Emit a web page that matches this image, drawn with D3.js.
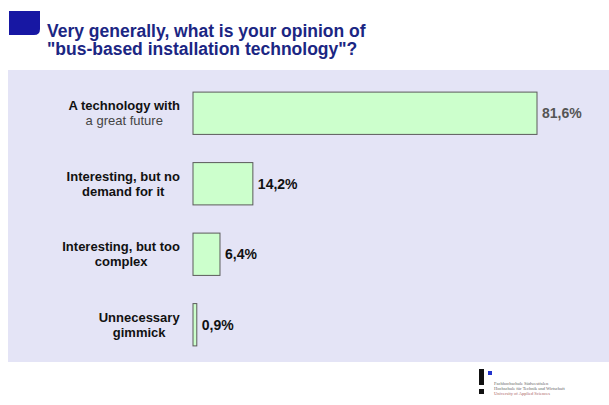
<!DOCTYPE html>
<html>
<head>
<meta charset="utf-8">
<script src="https://cdn.jsdelivr.net/npm/d3@7"></script>
<style>
  body { margin: 0; background: #ffffff; }
  svg { display: block; font-family: "Liberation Sans", Arial, sans-serif; }
</style>
</head>
<body>
<svg width="609" height="405"></svg>
<script>
// données
let categories = [
    ["A technology with", "a great future"],
    ["Interesting, but no", "demand for it"],
    ["Interesting, but too", "complex"],
    ["Unnecessary", "gimmick"]
];
let valeurs = [81.6, 14.2, 6.4, 0.9];
let etiquettes = ["81,6%", "14,2%", "6,4%", "0,9%"];

let titre = ["Very generally, what is your opinion of", "\"bus-based installation technology\"?"];
let logoTexte = ["Fachhochschule Südwestfalen", "Hochschule für Technik und Wirtschaft", "University of Applied Sciences"];

let svg = d3.select("svg");

// fond du graphique
svg.append("rect")
    .attr("x", 8).attr("y", 70)
    .attr("width", 601).attr("height", 292)
    .attr("fill", "#e4e4f6");

// carré bleu du titre
svg.append("path")
    .attr("d", "M9,11 H40 V29 Q40,35 34,35 H9 Z")
    .attr("fill", "#1717a3");

svg.selectAll("text.titre").data(titre).enter()
    .append("text")
    .attr("class", "titre")
    .attr("x", 47)
    .attr("y", (d, i) => 37 + i * 18)
    .attr("font-size", 17.5)
    .attr("font-weight", "bold")
    .attr("fill", "#1b2683")
    .text(d => d);

// échelles
let x = d3.scaleLinear().domain([0, 81.6]).range([193, 537]);
let y = d3.scaleBand().domain(d3.range(categories.length)).range([78, 360]).paddingInner(0.4).paddingOuter(0.2);

let barres = svg.selectAll("g.barre").data(valeurs).enter()
    .append("g").attr("class", "barre");

barres.append("rect")
    .attr("x", x(0))
    .attr("y", (d, i) => y(i))
    .attr("width", d => x(d) - x(0))
    .attr("height", y.bandwidth())
    .attr("fill", "#ccffcc")
    .attr("stroke", "#5a5a5a")
    .attr("stroke-width", 1);

// valeurs
barres.append("text")
    .attr("x", d => x(d) + 5)
    .attr("y", (d, i) => y(i) + y.bandwidth() / 2 + 5)
    .attr("font-size", 14)
    .attr("font-weight", "bold")
    .attr("fill", (d, i) => i == 0 ? "#555" : "#111")
    .text((d, i) => etiquettes[i]);

// catégories
let labels = svg.selectAll("text.cat").data(categories).enter()
    .append("text")
    .attr("class", "cat")
    .attr("text-anchor", "middle")
    .attr("font-size", 13);

labels.each(function (d, i) {
    d3.select(this).selectAll("tspan").data(d).enter()
        .append("tspan")
        .attr("x", 0)
        .attr("y", (s, j) => y(i) + y.bandwidth() / 2 - 3 + j * 15)
        .attr("font-weight", (s, j) => (i == 0 && j == 1) ? "normal" : "bold")
        .attr("fill", (s, j) => (i == 0 && j == 1) ? "#444" : "#111")
        .text(s => s);
});
// centrer chaque bloc, bord droit à x=180
labels.each(function () {
    let bb = this.getBBox();
    d3.select(this).attr("transform", "translate(" + (180 - bb.width / 2) + ",0)");
});

// logo
svg.append("rect").attr("x", 479).attr("y", 369).attr("width", 5).attr("height", 16).attr("fill", "#111");
svg.append("rect").attr("x", 479).attr("y", 389).attr("width", 5).attr("height", 5).attr("fill", "#111");
svg.append("rect").attr("x", 488).attr("y", 371).attr("width", 4).attr("height", 4).attr("fill", "#2233cc");
svg.selectAll("text.logo").data(logoTexte).enter()
    .append("text")
    .attr("class", "logo")
    .attr("x", 494)
    .attr("y", (d, i) => 385 + i * 5)
    .attr("font-size", 4.5)
    .attr("font-family", "Liberation Serif, serif")
    .attr("fill", (d, i) => i == 2 ? "#a66" : "#666")
    .text(d => d);
</script>
</body>
</html>
